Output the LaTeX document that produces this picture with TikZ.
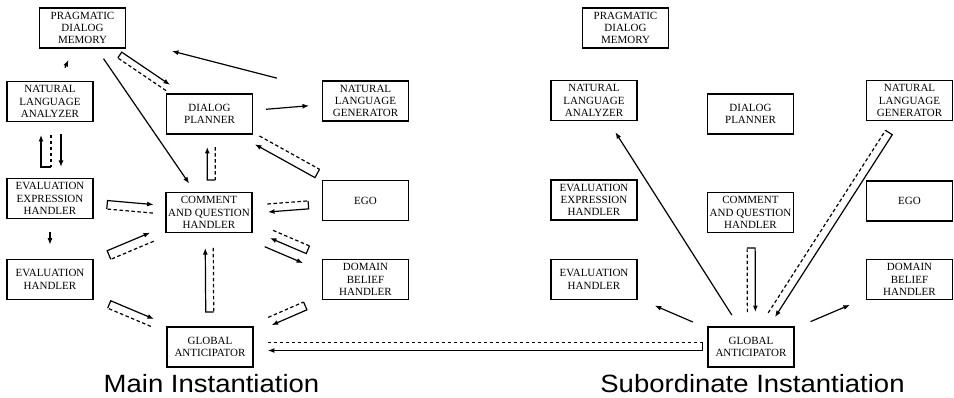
\documentclass[tikz,border=0pt]{standalone}
\usepackage{fontspec}
\setmainfont{Liberation Serif}
\newfontfamily\titlefont{Liberation Sans}
\usepackage{graphicx}
\usetikzlibrary{calc,arrows.meta}
% solid flow between two boxes, from fraction #3 to #4 of the centre line, shifted by #5
\newcommand\flow[5]{\path ($(#1.center)!#3!(#2.center)$) coordinate (p1) ($(#1.center)!#4!(#2.center)$) coordinate (p2);
	\draw[call] ($(p1)!#5pt!90:(p2)$) -- ($(p2)!#5pt!-90:(p1)$);}
% solid call with dashed return, joined at the calling end
\newcommand\callret[6]{\path ($(#1.center)!#3!(#2.center)$) coordinate (p1) ($(#1.center)!#4!(#2.center)$) coordinate (p2);
	\path ($(p1)!#5pt!90:(p2)$) coordinate (q1) ($(p2)!#5pt!-90:(p1)$) coordinate (q2)
		($(p1)!#6pt!90:(p2)$) coordinate (r1) ($(p2)!#6pt!-90:(p1)$) coordinate (r2);
	\draw[ret] (r2) -- (r1);
	\draw[call] (r1) -- (q1) -- (q2);}

\begin{document}
\begin{tikzpicture}[x=1pt, y=-1pt,
	box/.style={draw, line width=1.3pt, minimum width=86pt, minimum height=40pt, inner sep=0pt, align=center, font=\fontsize{11}{12.3}\selectfont},
	call/.style={line width=1.2pt, -{Latex[length=6.5pt,width=5pt]}},
	ret/.style={line width=1.2pt, dash pattern=on 3.5pt off 2.5pt},
	title/.style={font=\titlefont\fontsize{25}{30}\selectfont, anchor=base, inner sep=0pt}]
	\useasboundingbox (0,0) rectangle (954,398);
	
	%%%%% MAIN %%%%%
	\node[box] (mpdm) at (82.5,28) {PRAGMATIC\\DIALOG\\MEMORY};
	\node[box] (mnla) at (50,101.5) {NATURAL\\LANGUAGE\\ANALYZER};
	\node[box] (mdp) at (209.5,114) {DIALOG\\PLANNER};
	\node[box] (mnlg) at (365.5,101) {NATURAL\\LANGUAGE\\GENERATOR};
	\node[box] (meeh) at (50,198.5) {EVALUATION\\EXPRESSION\\HANDLER};
	\node[box] (mcqh) at (209,212.5) {COMMENT\\AND QUESTION\\HANDLER};
	\node[box] (mego) at (365.5,200.5) {EGO};
	\node[box] (meh) at (50,279.5) {EVALUATION\\HANDLER};
	\node[box] (mdbh) at (365.5,279.5) {DOMAIN\\BELIEF\\HANDLER};
	\node[box] (mga) at (210,347) {GLOBAL\\ANTICIPATOR};
	\node[title] (mtitle) at (211.5,392) {\scalebox{1.1}[1]{Main Instantiation}};
	
	\flow{mnla}{mpdm}{0.46}{0.565}{0}
	\flow{mpdm}{mcqh}{0.166}{0.843}{0}
	\callret{mpdm}{mdp}{0.30}{0.68}{2}{-5}
	\flow{mnlg}{mpdm}{0.313}{0.684}{0}
	\flow{mdp}{mnlg}{0.362}{0.638}{0}
	\callret{meeh}{mnla}{0.325}{0.655}{9}{-1}
	\flow{mnla}{meeh}{0.335}{0.675}{11}
	\callret{mcqh}{mdp}{0.33}{0.665}{2}{-6}
	\callret{mego}{mdp}{0.31}{0.695}{4.5}{-5}
	\callret{meeh}{mcqh}{0.36}{0.65}{3}{-5.5}
	\flow{meeh}{meh}{0.41}{0.57}{0}
	\callret{meh}{mcqh}{0.37}{0.64}{4.3}{-5}
	\callret{meh}{mga}{0.37}{0.64}{4}{-4}
	\callret{mga}{mcqh}{0.26}{0.736}{4}{-4}
	\callret{mego}{mcqh}{0.365}{0.625}{4}{-4}
	\callret{mdbh}{mcqh}{0.38}{0.612}{-0.5}{-8.8}
	\flow{mcqh}{mdbh}{0.38}{0.625}{-9.5}
	\callret{mdbh}{mga}{0.388}{0.615}{4.5}{-4}
	
	%%%%% SUBORDINATE %%%%%
	\node[box] (spdm) at (625.5,28) {PRAGMATIC\\DIALOG\\MEMORY};
	\node[box] (snla) at (594,100.5) {NATURAL\\LANGUAGE\\ANALYZER};
	\node[box] (sdp) at (750.5,114) {DIALOG\\PLANNER};
	\node[box] (snlg) at (909.5,100.5) {NATURAL\\LANGUAGE\\GENERATOR};
	\node[box] (seeh) at (594,200) {EVALUATION\\EXPRESSION\\HANDLER};
	\node[box] (scqh) at (750.5,212.5) {COMMENT\\AND QUESTION\\HANDLER};
	\node[box] (sego) at (909.5,201) {EGO};
	\node[box] (seh) at (594,279.5) {EVALUATION\\HANDLER};
	\node[box] (sdbh) at (909.5,279.5) {DOMAIN\\BELIEF\\HANDLER};
	\node[box] (sga) at (751,347) {GLOBAL\\ANTICIPATOR};
	\node[title] (stitle) at (752.5,392) {\scalebox{1.1}[1]{Subordinate Instantiation}};
	
	\flow{sga}{snla}{0.127}{0.869}{-1}
	\callret{scqh}{sga}{0.264}{0.74}{4.5}{-3.5}
	\callret{snlg}{sga}{0.13}{0.87}{4}{-4}
	\flow{sga}{seh}{0.37}{0.613}{0}
	\flow{sga}{sdbh}{0.376}{0.624}{0}
	
	% between the two anticipators
	\callret{sga}{mga}{0.09}{0.893}{3.5}{-4.5}
\end{tikzpicture}
\end{document}
